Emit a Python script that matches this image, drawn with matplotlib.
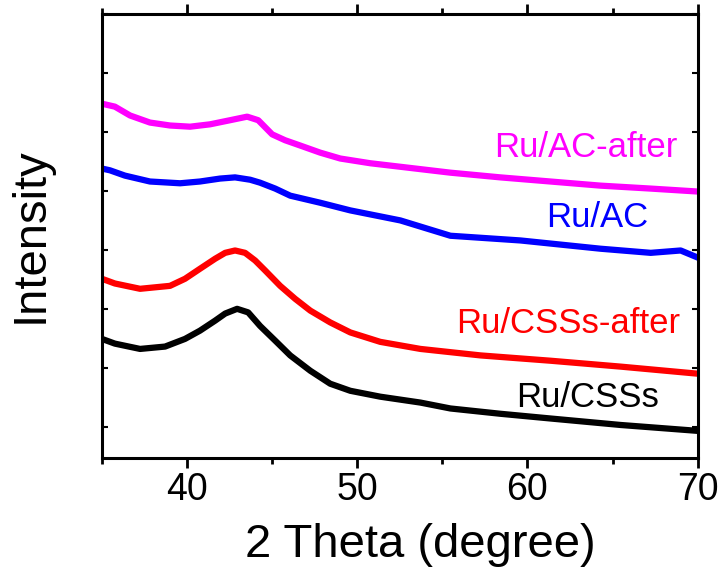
import matplotlib
matplotlib.use('Agg')
import matplotlib.pyplot as plt
from matplotlib.ticker import MultipleLocator

plt.rcParams['font.family'] = ['Liberation Sans', 'DejaVu Sans']

# Ru/AC-after
x_ac_after = [35, 35.76, 36.65, 37.82, 39, 40.18, 41.35, 42.53, 43.53, 44.18, 44.59, 45, 45.76, 46.65,
              47.82, 49, 50.76, 52.53, 55.47, 58.41, 61.35, 64.29, 67.24, 70]
y_ac_after = [5.48, 5.43, 5.28, 5.16, 5.11, 5.09, 5.13, 5.20, 5.26, 5.20, 5.08, 4.96, 4.86, 4.77,
              4.65, 4.55, 4.47, 4.41, 4.31, 4.23, 4.16, 4.09, 4.04, 3.99]
# Ru/AC
x_ac = [35, 35.47, 36.35, 37.82, 39.59, 40.76, 41.94, 42.82, 43.71, 44.29, 45.18, 46.06, 47.82, 49.59,
        52.53, 55.47, 59.59, 64.29, 67.24, 69.0, 70]
y_ac = [4.38, 4.35, 4.26, 4.16, 4.13, 4.16, 4.21, 4.23, 4.19, 4.14, 4.04, 3.92, 3.80, 3.67,
        3.50, 3.24, 3.16, 3.02, 2.95, 2.99, 2.87]
# Ru/CSSs-after
x_css_after = [35, 35.76, 37.24, 39, 39.88, 40.76, 41.65, 42.24, 42.82, 43.41, 44, 44.59, 45.47, 46.35,
               47.24, 48.41, 49.59, 51.35, 53.71, 57.24, 61.35, 65.47, 70]
y_css_after = [2.51, 2.43, 2.34, 2.39, 2.51, 2.68, 2.85, 2.95, 2.99, 2.95, 2.82, 2.65, 2.39, 2.17,
               1.97, 1.77, 1.60, 1.44, 1.32, 1.21, 1.12, 1.02, 0.90]
# Ru/CSSs
x_css = [35, 35.76, 37.24, 38.71, 39.88, 40.76, 41.65, 42.24, 42.94, 43.59, 44.29, 45.18, 46.06, 47.24,
         48.41, 49.59, 51.35, 53.71, 55.47, 58.41, 61.35, 65.47, 70]
y_css = [1.49, 1.41, 1.32, 1.36, 1.49, 1.63, 1.80, 1.92, 2.00, 1.94, 1.71, 1.46, 1.21, 0.95,
         0.73, 0.61, 0.51, 0.41, 0.31, 0.22, 0.14, 0.03, -0.07]

fig = plt.figure(figsize=(7.23, 5.75), dpi=100)
ax = fig.add_axes([0.141, 0.2035, 0.824, 0.772])

ax.plot(x_css, y_css, color='black', lw=4.5)
ax.plot(x_css_after, y_css_after, color='red', lw=4.5)
ax.plot(x_ac, y_ac, color='blue', lw=4.5)
ax.plot(x_ac_after, y_ac_after, color='magenta', lw=4.5)

ax.text(63.41, 4.74, 'Ru/AC-after', color='magenta', fontsize=25, ha='center', va='center')
ax.text(64.12, 3.55, 'Ru/AC', color='blue', fontsize=25, ha='center', va='center')
ax.text(62.41, 1.75, 'Ru/CSSs-after', color='red', fontsize=25, ha='center', va='center')
ax.text(63.53, 0.49, 'Ru/CSSs', color='black', fontsize=25, ha='center', va='center')

ax.set_xlim(35, 70)
ax.set_ylim(-0.53, 7)
ax.xaxis.set_major_locator(MultipleLocator(10))
ax.xaxis.set_minor_locator(MultipleLocator(5))
ax.yaxis.set_major_locator(MultipleLocator(1))
ax.set_yticklabels([])
ax.tick_params(axis='x', which='major', direction='out', length=7, width=2, labelsize=27, pad=3)
ax.tick_params(axis='x', which='minor', direction='out', length=4, width=2)
ax.tick_params(axis='y', which='both', direction='in', length=4, width=1.5, right=True, left=True)
ax.tick_params(axis='x', which='both', top=True)
for s in ax.spines.values():
    s.set_linewidth(2.2)

ax.set_xlabel('2 Theta (degree)', fontsize=34)
ax.xaxis.set_label_coords(0.534, -0.146)
ax.set_ylabel('Intensity', fontsize=34)
ax.yaxis.set_label_coords(-0.083, 0.502)

plt.savefig('out.png', dpi=100)
